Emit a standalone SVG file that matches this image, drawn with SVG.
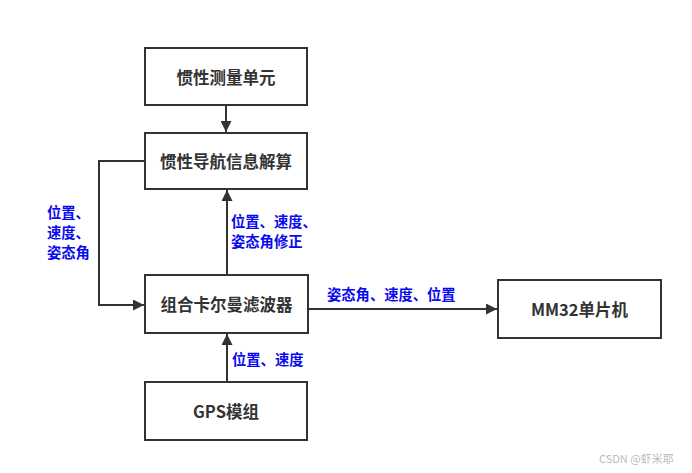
<svg xmlns="http://www.w3.org/2000/svg" width="692" height="473" viewBox="0 0 692 473">
<style>
.box{fill:#fff;stroke:#333;stroke-width:2}
.t{font-family:"Noto Sans CJK SC","Noto Sans",sans-serif;font-size:16.5px;font-weight:bold;fill:#333;text-anchor:middle;dominant-baseline:central}
.l{font-family:"Noto Sans CJK SC","Noto Sans",sans-serif;font-size:14.3px;font-weight:bold;fill:#0a0aef}
.c{fill:none;stroke:#333;stroke-width:2}
.w{font-family:"Noto Sans CJK SC","Noto Sans",sans-serif;font-size:11px;fill:#bbb}
</style>
<defs>
<marker id="ah" viewBox="0 0 10 10" refX="10" refY="5" markerWidth="5.5" markerHeight="5.5" orient="auto" markerUnits="strokeWidth">
<path d="M0,0 L10,5 L0,10 z" fill="#333"/>
</marker>
</defs>
<rect width="692" height="473" fill="#fff"/>
<g id="connectors">
<line class="c" x1="226" y1="105" x2="226" y2="132" marker-end="url(#ah)"/>
<line class="c" x1="227" y1="275" x2="227" y2="190" marker-end="url(#ah)"/>
<polyline class="c" points="145,161 99,161 99,305 144,305" marker-end="url(#ah)"/>
<line class="c" x1="227" y1="382" x2="227" y2="334" marker-end="url(#ah)"/>
<line class="c" x1="308" y1="309" x2="497" y2="309" marker-end="url(#ah)"/>
</g>
<g id="labels">
<text class="l" x="47" y="218">位置、</text>
<text class="l" x="47" y="238">速度、</text>
<text class="l" x="47" y="258">姿态角</text>
<text class="l" x="231" y="227">位置、速度、</text>
<text class="l" x="231" y="247">姿态角修正</text>
<text class="l" x="232" y="365">位置、速度</text>
<text class="l" x="327" y="300">姿态角、速度、位置</text>
</g>
<g id="imu"><rect class="box" x="145" y="48" width="162" height="57"/><text class="t" x="226" y="76.5">惯性测量单元</text></g>
<g id="ins"><rect class="box" x="145" y="133" width="162" height="56"/><text class="t" x="226" y="161">惯性导航信息解算</text></g>
<g id="kf"><rect class="box" x="145" y="275" width="163" height="58"/><text class="t" x="226.5" y="304">组合卡尔曼滤波器</text></g>
<g id="gps"><rect class="box" x="145" y="382" width="162" height="58"/><text class="t" x="226" y="411">GPS模组</text></g>
<g id="mcu"><rect class="box" x="498" y="280" width="163" height="58"/><text class="t" x="579.5" y="309">MM32单片机</text></g>
<text class="w" x="599" y="463">CSDN @虾米耶</text>
</svg>
